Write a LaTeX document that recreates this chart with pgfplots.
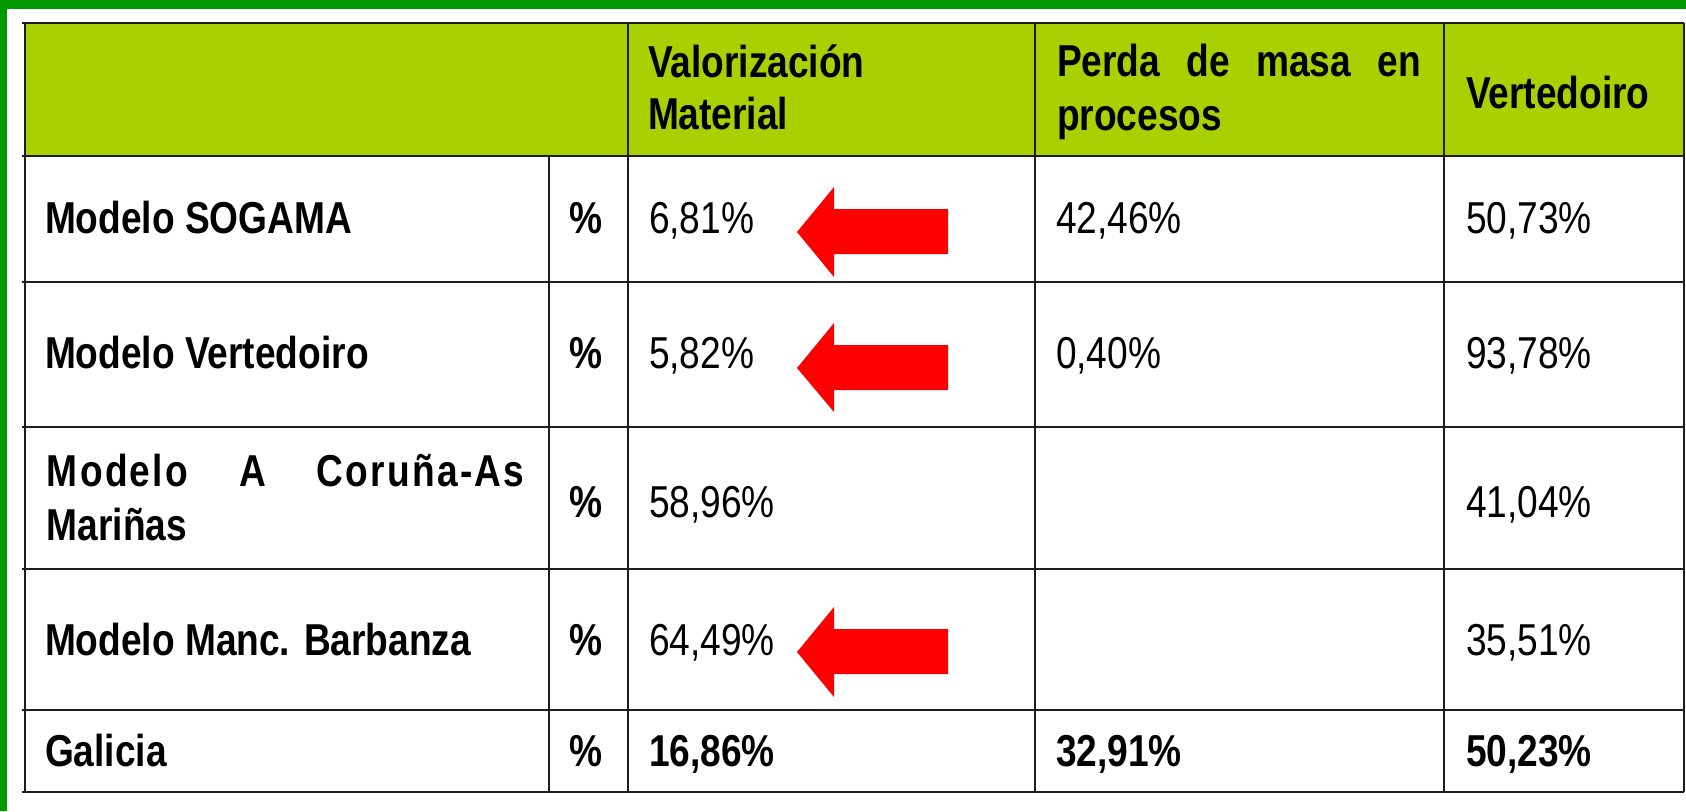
\documentclass[border=0pt]{standalone}
\usepackage{pgfplots}
\pgfplotsset{compat=1.18}
\usepackage{fontspec}
\setmainfont{Liberation Sans}[FakeStretch=0.83]
\definecolor{frameg}{RGB}{0,153,0}
\definecolor{headg}{RGB}{169,208,0}
\definecolor{linec}{RGB}{30,30,30}
\begin{document}
\begin{tikzpicture}
\begin{axis}[
  scale only axis, width=843pt, height=405.5pt,
  xmin=0, xmax=1686, ymin=0, ymax=811, y dir=reverse,
  hide axis, clip=false,
]
% background and frame
\fill[white] (axis cs:0,0) rectangle (axis cs:1686,811);
\fill[frameg] (axis cs:0,0) rectangle (axis cs:1686,9);
\fill[frameg] (axis cs:0,0) rectangle (axis cs:7,811);
% header
\fill[headg] (axis cs:24.5,23) rectangle (axis cs:1684,156);
% grid lines
\pgfplotsinvokeforeach{23,156,282,427,569,710,792}{
  \draw[line width=1pt, draw=linec] (axis cs:22,#1) -- (axis cs:1684,#1);
}
\pgfplotsinvokeforeach{24.5,628,1035,1444,1684}{
  \draw[line width=1pt, draw=linec] (axis cs:#1,23) -- (axis cs:#1,792);
}
\draw[line width=1pt, draw=linec] (axis cs:549,156) -- (axis cs:549,792);
% arrows
\addplot[fill=red, draw=none] coordinates {(797,232) (834,187) (834,209) (948,209) (948,254) (834,254) (834,277)} --cycle;
\addplot[fill=red, draw=none] coordinates {(797,368) (834,323) (834,345) (948,345) (948,390) (834,390) (834,412)} --cycle;
\addplot[fill=red, draw=none] coordinates {(797,652) (834,607) (834,629) (948,629) (948,674) (834,674) (834,697)} --cycle;
\begin{scope}[every node/.style={anchor=base west, inner sep=0pt, outer sep=0pt, font=\fontsize{22.35}{27}\selectfont}]
% header text
\node[font=\fontsize{22.35}{27}\selectfont\bfseries] at (axis cs:648,77) {Valorización};
\node[font=\fontsize{22.35}{27}\selectfont\bfseries] at (axis cs:648,129) {Material};
\node[font=\fontsize{22.35}{27}\selectfont\bfseries] at (axis cs:1057,76) {\makebox[182pt][s]{Perda de masa en}};
\node[font=\fontsize{22.35}{27}\selectfont\bfseries] at (axis cs:1057,130) {procesos};
\node[font=\fontsize{22.35}{27}\selectfont\bfseries] at (axis cs:1466,108) {Vertedoiro};
% row labels
\node[font=\fontsize{22.35}{27}\selectfont\bfseries] at (axis cs:45,233) {Modelo SOGAMA};
\node[font=\fontsize{22.35}{27}\selectfont\bfseries] at (axis cs:45,368) {Modelo Vertedoiro};
\node[font=\fontsize{22.35}{27}\selectfont\bfseries] at (axis cs:47,486) {\addfontfeature{LetterSpace=5}\makebox[238.75pt][s]{Modelo A Coruña-As}};
\node[font=\fontsize{22.35}{27}\selectfont\bfseries] at (axis cs:47,540) {Mariñas};
\node[font=\fontsize{22.35}{27}\selectfont\bfseries] at (axis cs:45,655) {Modelo Manc. Barbanza};
\node[font=\fontsize{22.35}{27}\selectfont\bfseries] at (axis cs:45,766) {Galicia};
% percent column
\node[font=\fontsize{22.35}{27}\selectfont\bfseries] at (axis cs:569,233) {\%};
\node[font=\fontsize{22.35}{27}\selectfont\bfseries] at (axis cs:569,368) {\%};
\node[font=\fontsize{22.35}{27}\selectfont\bfseries] at (axis cs:569,517) {\%};
\node[font=\fontsize{22.35}{27}\selectfont\bfseries] at (axis cs:569,655) {\%};
\node[font=\fontsize{22.35}{27}\selectfont\bfseries] at (axis cs:569,766) {\%};
% values
\node at (axis cs:649,233) {6,81\%};
\node at (axis cs:1056,233) {42,46\%};
\node at (axis cs:1466,233) {50,73\%};
\node at (axis cs:649,368) {5,82\%};
\node at (axis cs:1056,368) {0,40\%};
\node at (axis cs:1466,368) {93,78\%};
\node at (axis cs:649,517) {58,96\%};
\node at (axis cs:1466,517) {41,04\%};
\node at (axis cs:649,655) {64,49\%};
\node at (axis cs:1466,655) {35,51\%};
\node[font=\fontsize{22.35}{27}\selectfont\bfseries] at (axis cs:649,766) {16,86\%};
\node[font=\fontsize{22.35}{27}\selectfont\bfseries] at (axis cs:1056,766) {32,91\%};
\node[font=\fontsize{22.35}{27}\selectfont\bfseries] at (axis cs:1466,766) {50,23\%};
\end{scope}
\end{axis}
\end{tikzpicture}
\end{document}
